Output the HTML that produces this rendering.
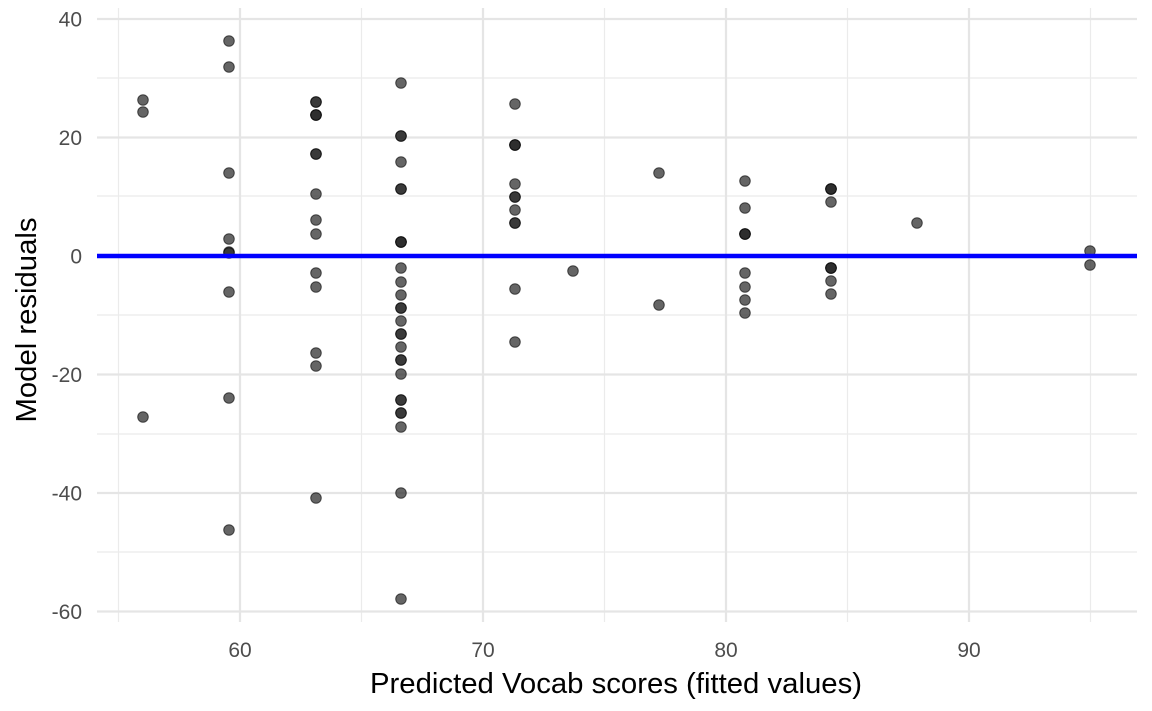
<!DOCTYPE html>
<html><head><meta charset="utf-8"><style>
html,body{margin:0;padding:0;background:#fff;}
svg{display:block;font-family:"Liberation Sans",Arial,sans-serif;}
</style></head><body>
<svg width="1152" height="711" xmlns="http://www.w3.org/2000/svg">
<g stroke="#ebebeb" stroke-width="1.2">
<line x1="97" x2="1137" y1="78" y2="78"/><line x1="97" x2="1137" y1="196" y2="196"/>
<line x1="97" x2="1137" y1="315" y2="315"/><line x1="97" x2="1137" y1="434" y2="434"/>
<line x1="97" x2="1137" y1="552" y2="552"/>
<line x1="118.5" x2="118.5" y1="8" y2="622"/><line x1="361.5" x2="361.5" y1="8" y2="622"/>
<line x1="604.5" x2="604.5" y1="8" y2="622"/><line x1="847.5" x2="847.5" y1="8" y2="622"/>
<line x1="1090.5" x2="1090.5" y1="8" y2="622"/>
</g>
<g stroke="#e5e5e5" stroke-width="2.2">
<line x1="97" x2="1137" y1="19" y2="19"/><line x1="97" x2="1137" y1="137.5" y2="137.5"/>
<line x1="97" x2="1137" y1="256" y2="256"/><line x1="97" x2="1137" y1="374.5" y2="374.5"/>
<line x1="97" x2="1137" y1="493" y2="493"/><line x1="97" x2="1137" y1="611.5" y2="611.5"/>
<line x1="240" x2="240" y1="8" y2="622"/><line x1="483" x2="483" y1="8" y2="622"/>
<line x1="726" x2="726" y1="8" y2="622"/><line x1="969" x2="969" y1="8" y2="622"/>
</g>
<g fill="#2a2a2a" fill-opacity="0.72" stroke="#000" stroke-opacity="0.6" stroke-width="1">
<circle cx="143" cy="100" r="5.3"/><circle cx="143" cy="112" r="5.3"/><circle cx="143" cy="417" r="5.3"/>
<circle cx="229" cy="41" r="5.3"/><circle cx="229" cy="67" r="5.3"/><circle cx="229" cy="173" r="5.3"/><circle cx="229" cy="239" r="5.3"/><circle cx="229" cy="252" r="5.3"/><circle cx="229" cy="253" r="5.3"/><circle cx="229" cy="292" r="5.3"/><circle cx="229" cy="398" r="5.3"/><circle cx="229" cy="530" r="5.3"/>
<circle cx="316" cy="102" r="5.3"/><circle cx="316" cy="102" r="5.3"/><circle cx="316" cy="115" r="5.3"/><circle cx="316" cy="115" r="5.3"/><circle cx="316" cy="115" r="5.3"/><circle cx="316" cy="154" r="5.3"/><circle cx="316" cy="154" r="5.3"/><circle cx="316" cy="194" r="5.3"/><circle cx="316" cy="220" r="5.3"/><circle cx="316" cy="234" r="5.3"/><circle cx="316" cy="273" r="5.3"/><circle cx="316" cy="287" r="5.3"/><circle cx="316" cy="353" r="5.3"/><circle cx="316" cy="366" r="5.3"/><circle cx="316" cy="498" r="5.3"/>
<circle cx="401" cy="83" r="5.3"/><circle cx="401" cy="136" r="5.3"/><circle cx="401" cy="136" r="5.3"/><circle cx="401" cy="162" r="5.3"/><circle cx="401" cy="189" r="5.3"/><circle cx="401" cy="189" r="5.3"/><circle cx="401" cy="242" r="5.3"/><circle cx="401" cy="242" r="5.3"/><circle cx="401" cy="242" r="5.3"/><circle cx="401" cy="268" r="5.3"/><circle cx="401" cy="282" r="5.3"/><circle cx="401" cy="295" r="5.3"/><circle cx="401" cy="308" r="5.3"/><circle cx="401" cy="308" r="5.3"/><circle cx="401" cy="321" r="5.3"/><circle cx="401" cy="334" r="5.3"/><circle cx="401" cy="334" r="5.3"/><circle cx="401" cy="347" r="5.3"/><circle cx="401" cy="360" r="5.3"/><circle cx="401" cy="360" r="5.3"/><circle cx="401" cy="374" r="5.3"/><circle cx="401" cy="400" r="5.3"/><circle cx="401" cy="400" r="5.3"/><circle cx="401" cy="413" r="5.3"/><circle cx="401" cy="413" r="5.3"/><circle cx="401" cy="427" r="5.3"/><circle cx="401" cy="493" r="5.3"/><circle cx="401" cy="599" r="5.3"/>
<circle cx="515" cy="104" r="5.3"/><circle cx="515" cy="145" r="5.3"/><circle cx="515" cy="145" r="5.3"/><circle cx="515" cy="145" r="5.3"/><circle cx="515" cy="184" r="5.3"/><circle cx="515" cy="197" r="5.3"/><circle cx="515" cy="197" r="5.3"/><circle cx="515" cy="210" r="5.3"/><circle cx="515" cy="223" r="5.3"/><circle cx="515" cy="223" r="5.3"/><circle cx="515" cy="289" r="5.3"/><circle cx="515" cy="342" r="5.3"/>
<circle cx="573" cy="271" r="5.3"/>
<circle cx="659" cy="173" r="5.3"/><circle cx="659" cy="305" r="5.3"/>
<circle cx="745" cy="181" r="5.3"/><circle cx="745" cy="208" r="5.3"/><circle cx="745" cy="234" r="5.3"/><circle cx="745" cy="234" r="5.3"/><circle cx="745" cy="234" r="5.3"/><circle cx="745" cy="273" r="5.3"/><circle cx="745" cy="287" r="5.3"/><circle cx="745" cy="300" r="5.3"/><circle cx="745" cy="313" r="5.3"/>
<circle cx="831" cy="189" r="5.3"/><circle cx="831" cy="189" r="5.3"/><circle cx="831" cy="189" r="5.3"/><circle cx="831" cy="202" r="5.3"/><circle cx="831" cy="268" r="5.3"/><circle cx="831" cy="268" r="5.3"/><circle cx="831" cy="268" r="5.3"/><circle cx="831" cy="281" r="5.3"/><circle cx="831" cy="294" r="5.3"/>
<circle cx="917" cy="223" r="5.3"/>
<circle cx="1090" cy="251" r="5.3"/><circle cx="1090" cy="265" r="5.3"/>
</g>
<line x1="97" x2="1137" y1="256" y2="256" stroke="#0000ff" stroke-width="4.5"/>
<g fill="#4d4d4d" font-size="21" text-anchor="end">
<text x="82" y="26.5">40</text><text x="82" y="145">20</text><text x="82" y="263.5">0</text>
<text x="82" y="382">-20</text><text x="82" y="500.5">-40</text><text x="82" y="619">-60</text>
</g>
<g fill="#4d4d4d" font-size="21" text-anchor="middle">
<text x="240" y="657">60</text><text x="483" y="657">70</text><text x="726" y="657">80</text><text x="969" y="657">90</text>
</g>
<text x="616" y="693" font-size="29" text-anchor="middle" fill="#000" textLength="492" lengthAdjust="spacingAndGlyphs">Predicted Vocab scores (fitted values)</text>
<text transform="translate(36,320) rotate(-90)" font-size="29" text-anchor="middle" fill="#000" textLength="205" lengthAdjust="spacingAndGlyphs">Model residuals</text>
</svg>
</body></html>
